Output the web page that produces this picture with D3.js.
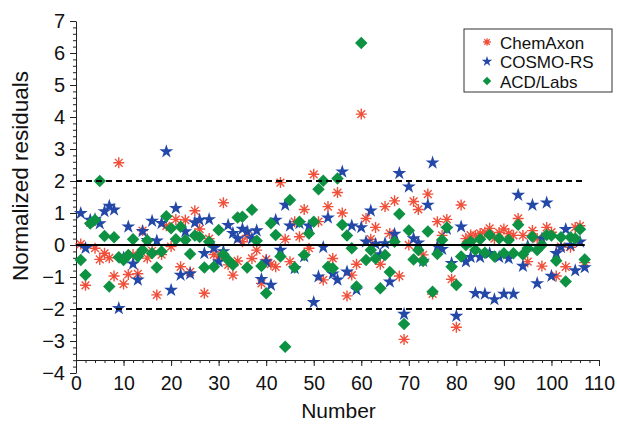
<!DOCTYPE html>
<html>
<head>
<meta charset="utf-8">
<script src="https://cdn.jsdelivr.net/npm/d3@7"></script>
<style>
html,body{margin:0;padding:0;background:#fff;}
svg{display:block;}
text{font-family:"Liberation Sans",Arial,Helvetica,sans-serif;fill:#111;}
</style>
</head>
<body>
<svg id="chart" width="617" height="426"></svg>
<script>
const seriesNames = ["ChemAxon", "COSMO-RS", "ACD/Labs"];
const chemAxon = [0.03,-1.26,0.70,-0.10,-0.45,-0.26,-0.40,-0.97,2.57,-1.22,
 -0.92,-0.30,-0.90,0.45,-0.41,-0.18,-1.56,-0.30,0.60,-0.05,
 0.80,-0.68,0.78,-0.84,1.07,0.50,-1.51,0.20,-0.30,-0.36,
 1.32,-0.62,-0.94,-0.50,0.10,0.30,-0.42,-0.16,-1.20,-0.45,
 -0.60,-0.68,1.95,0.18,-0.52,0.73,0.26,1.11,-0.10,2.21,
 0.73,-1.09,1.20,-0.42,1.64,1.00,-1.59,-0.94,-0.60,4.09,
 0.83,0.18,0.55,-0.60,1.20,0.36,1.38,-0.97,-2.95,0.00,
 1.36,1.11,-0.31,1.59,-1.53,0.73,0.30,0.80,-1.07,-2.57,
 1.25,0.20,0.31,0.30,0.36,0.40,0.52,0.20,0.39,0.50,
 0.36,0.30,0.83,0.30,-0.52,0.45,0.20,-0.66,0.55,0.40,
 -0.97,-0.05,-0.68,-0.07,0.55,0.60,-0.55];
const cosmoRS = [0.99,-0.10,0.78,0.80,0.67,1.05,1.22,1.10,-1.98,-0.40,
 0.57,-0.59,-1.09,0.43,0.15,0.75,0.13,0.68,2.92,-1.41,
 1.15,-0.94,0.42,-0.90,0.70,0.78,-0.26,0.80,-0.10,-0.52,
 -0.20,0.62,0.37,0.20,0.50,0.42,0.20,0.45,-1.07,-0.52,
 -1.25,0.78,-0.16,1.25,0.60,-0.73,0.68,-0.36,0.60,-1.79,
 -0.99,-0.07,0.85,-0.90,-1.09,2.29,-0.84,0.60,-1.40,0.55,
 0.10,1.07,0.03,-0.30,0.05,-1.15,0.34,2.24,-2.16,1.82,
 0.20,0.07,-0.50,1.25,2.57,-0.05,-0.13,0.50,-0.57,-2.22,
 0.57,-0.52,-0.38,-1.51,-0.38,-1.53,-0.26,-1.70,-0.38,-1.53,
 -0.42,-1.53,1.56,-0.66,-0.03,1.25,-1.20,0.20,1.32,-0.97,
 -0.26,-0.07,0.49,0.00,-0.80,0.10,-0.70];
const acdLabs = [-0.47,-0.94,0.67,0.78,2.00,0.28,-1.30,0.24,-0.38,-0.47,
 -0.31,0.18,-0.36,-0.16,0.14,-0.26,-0.70,-0.20,0.90,0.52,
 0.18,0.57,0.16,-0.28,0.30,0.25,-0.70,0.10,-0.68,0.47,
 -0.30,-0.47,-0.62,0.86,0.88,-0.70,1.10,0.13,-0.66,-1.51,
 0.68,0.31,-0.36,-3.18,1.41,-0.70,0.73,-0.31,0.36,0.73,
 1.74,2.01,-0.68,-0.73,2.08,0.63,0.30,-0.10,-1.30,6.31,
 -0.47,-0.16,-0.42,-1.35,-0.31,-0.84,0.10,0.97,-2.47,0.45,
 -0.45,-0.16,-0.50,0.42,-1.46,-0.28,0.16,0.55,-0.68,-1.25,
 -0.36,0.00,0.10,-0.16,0.18,-0.24,0.31,-0.36,0.20,-0.26,
 0.16,-0.26,0.63,-0.30,-0.10,0.26,-0.16,0.00,0.31,0.30,
 -0.49,0.24,-1.14,0.24,0.20,0.49,-0.45];
const xTicks = [0,10,20,30,40,50,60,70,80,90,100,110];
const yTicks = [-4,-3,-2,-1,0,1,2,3,4,5,6,7];
const refLines = [2,-2];
const xLabel = "Number";
const yLabel = "Normalized residuals";

const svg = d3.select("#chart");
const x = d3.scaleLinear().domain([0,110]).range([76,599]);
const y = d3.scaleLinear().domain([-4,7]).range([373,21]);
const xAxisY = 360;
const colors = ["#f0503a", "#2448a8", "#0d9142"];
const lastN = chemAxon.length;

// axes
const yMinor = d3.range(-4, 7.001, 0.2).map(v => +v.toFixed(1));
svg.append("g").attr("transform","translate(76,0)")
  .call(d3.axisLeft(y).tickValues(yMinor).tickSize(3).tickSizeOuter(0).tickFormat(""))
  .call(g => g.select(".domain").remove())
  .call(g => g.selectAll("line").attr("stroke","#222"));
svg.append("g").attr("transform","translate(76,0)")
  .call(d3.axisLeft(y).tickValues(yTicks).tickSize(6).tickSizeOuter(0).tickPadding(5).tickFormat(d3.format("d")))
  .call(g => g.select(".domain").attr("stroke","#222").attr("stroke-width",1))
  .call(g => g.selectAll("line").attr("stroke","#222"))
  .call(g => g.selectAll("text").attr("font-size",20).attr("fill","#111")
        .attr("font-family","'Liberation Sans',Arial,sans-serif"));

const xMinor = d3.range(0, 110.001, 2);
svg.append("g").attr("transform",`translate(0,${xAxisY})`)
  .call(d3.axisBottom(x).tickValues(xMinor).tickSize(3).tickSizeOuter(0).tickFormat(""))
  .call(g => g.select(".domain").remove())
  .call(g => g.selectAll("line").attr("stroke","#222"));
svg.append("g").attr("transform",`translate(0,${xAxisY})`)
  .call(d3.axisBottom(x).tickValues(xTicks).tickSize(6).tickSizeOuter(0).tickPadding(10).tickFormat(d3.format("d")))
  .call(g => g.select(".domain").attr("stroke","#222").attr("stroke-width",1))
  .call(g => g.selectAll("line").attr("stroke","#222"))
  .call(g => g.selectAll("text").attr("font-size",19.5).attr("fill","#111")
        .attr("font-family","'Liberation Sans',Arial,sans-serif"));

// titles
svg.append("text").attr("x", x(55) + 1).attr("y", 418).attr("text-anchor","middle")
  .attr("font-size",21).text(xLabel);
svg.append("text").attr("transform",`translate(28,176) rotate(-90)`).attr("text-anchor","middle")
  .attr("font-size",22.5).text(yLabel);

// symbols
function asteriskPath(r){
  const p = d3.path();
  for (let k = 0; k < 4; k++){
    const a = k*Math.PI/4;
    p.moveTo(-r*Math.cos(a), -r*Math.sin(a));
    p.lineTo(r*Math.cos(a), r*Math.sin(a));
  }
  return p.toString();
}
const starGen = d3.symbol().type(d3.symbolStar);
const diamondGen = d3.symbol().type(d3.symbolSquare);

function drawSeries(g, data, idx){
  const pts = data.map((v,i) => ({n:i+1, v}));
  if (idx === 0){
    g.selectAll("path").data(pts).join("path")
      .attr("d", asteriskPath(5.5))
      .attr("transform", d => `translate(${x(d.n)},${y(d.v)})`)
      .attr("stroke", colors[0]).attr("stroke-width",1.4).attr("fill","none");
  } else if (idx === 1){
    g.selectAll("path").data(pts).join("path")
      .attr("d", starGen.size(60)())
      .attr("transform", d => `translate(${x(d.n)},${y(d.v)})`)
      .attr("fill", colors[1]);
  } else {
    g.selectAll("path").data(pts).join("path")
      .attr("d", diamondGen.size(78)())
      .attr("transform", d => `translate(${x(d.n)},${y(d.v)}) rotate(45)`)
      .attr("fill", colors[2]);
  }
}
const allSeries = [chemAxon, cosmoRS, acdLabs];
allSeries.forEach((s, i) => drawSeries(svg.append("g"), s, i));

// reference lines
svg.append("line").attr("x1", x(0)).attr("x2", x(lastN)).attr("y1", y(0)).attr("y2", y(0))
  .attr("stroke","#000").attr("stroke-width",2);
refLines.forEach(v => {
  svg.append("line").attr("x1", x(0)).attr("x2", x(lastN)).attr("y1", y(v)).attr("y2", y(v))
    .attr("stroke","#000").attr("stroke-width",1.8).attr("stroke-dasharray","6,4");
});

// legend
const lg = svg.append("g").attr("transform","translate(464,29)");
lg.append("rect").attr("width",148).attr("height",63).attr("fill","#fff")
  .attr("stroke","#333").attr("stroke-width",1);
seriesNames.forEach((name, i) => {
  const cy = 13 + i*19.5;
  const row = lg.append("g").attr("transform",`translate(23,${cy})`);
  if (i === 0) row.append("path").attr("d", asteriskPath(3.8)).attr("stroke",colors[0]).attr("stroke-width",1.3).attr("fill","none");
  if (i === 1) row.append("path").attr("d", starGen.size(34)()).attr("fill",colors[1]);
  if (i === 2) row.append("path").attr("d", diamondGen.size(36)()).attr("transform","rotate(45)").attr("fill",colors[2]);
  lg.append("text").attr("x",36).attr("y",cy+6.5).attr("font-size",17).text(name);
});
</script>
</body>
</html>
